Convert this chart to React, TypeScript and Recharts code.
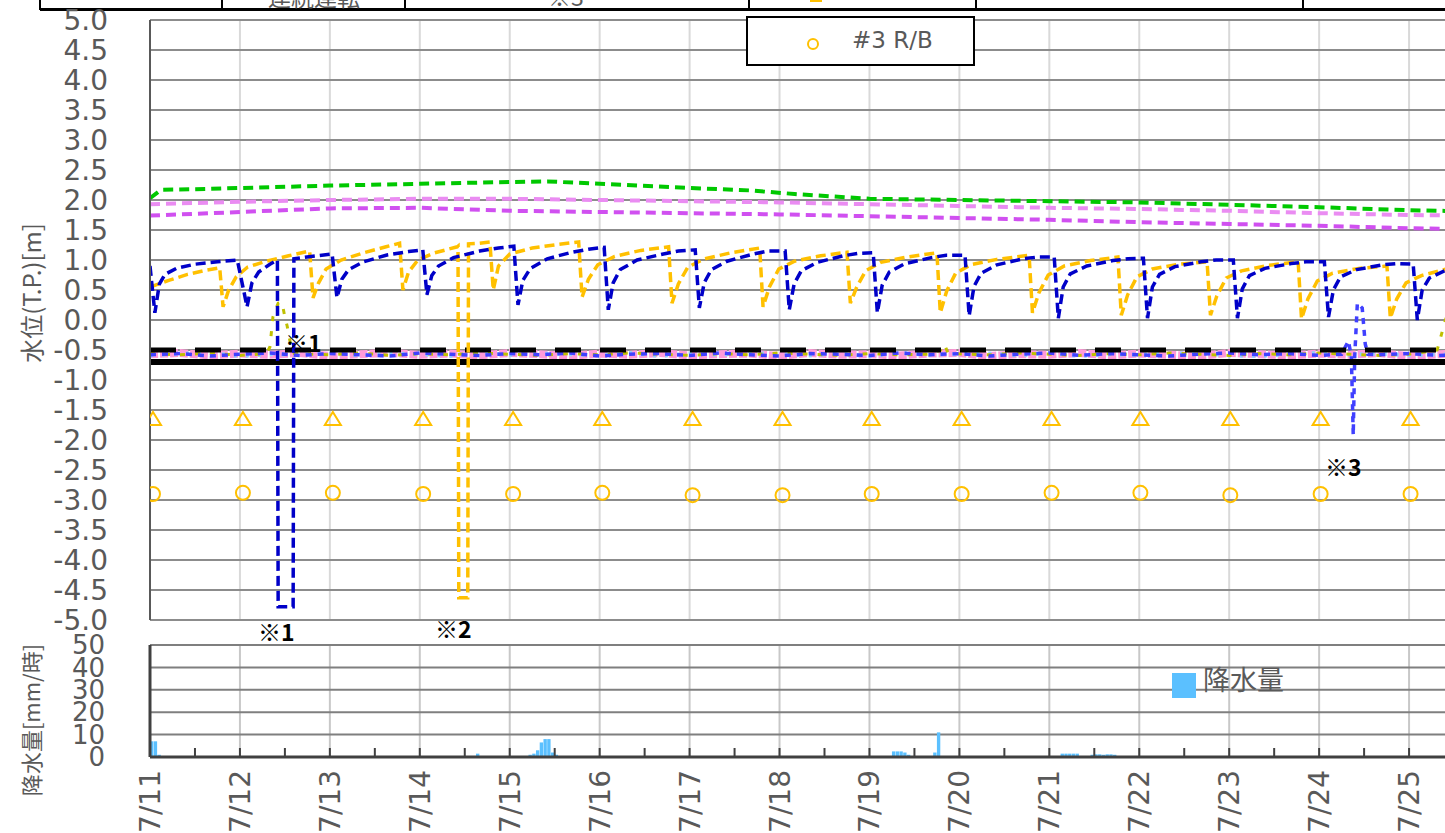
import React from "react";
import { Bar, CartesianGrid, ComposedChart, Line, Scatter, XAxis, YAxis } from "recharts";

// hours since 7/11 0:00
const dayTicks = [0, 24, 48, 72, 96, 120, 144, 168, 192, 216, 240, 264, 288, 312, 336, 360];
const dayLabels = ["7/11", "7/12", "7/13", "7/14", "7/15", "7/16", "7/17", "7/18", "7/19", "7/20", "7/21", "7/22", "7/23", "7/24", "7/25", "7/26"];
const halfDayTicks = [0, 12, 24, 36, 48, 60, 72, 84, 96, 108, 120, 132, 144, 156, 168, 180, 192, 204, 216, 228, 240, 252, 264, 276, 288, 300, 312, 324, 336, 348, 360];
const levelTicks = [-5, -4.5, -4, -3.5, -3, -2.5, -2, -1.5, -1, -0.5, 0, 0.5, 1, 1.5, 2, 2.5, 3, 3.5, 4, 4.5, 5];
const rainTicks = [0, 10, 20, 30, 40, 50];

// [hour, level]
const greenLevel = [[0, 2.03], [3, 2.17], [12, 2.18], [24, 2.2], [48, 2.24], [72, 2.27], [96, 2.3], [106, 2.31], [120, 2.27], [144, 2.2], [160, 2.16], [172, 2.1], [192, 2.02], [216, 2.0], [240, 1.98], [264, 1.96], [288, 1.92], [312, 1.88], [336, 1.83], [352, 1.81]];
const lilacLevel = [[0, 1.93], [24, 1.97], [48, 2.0], [72, 2.02], [96, 2.02], [120, 2.0], [144, 1.98], [168, 1.96], [192, 1.93], [216, 1.9], [240, 1.87], [264, 1.85], [288, 1.82], [312, 1.78], [336, 1.75], [352, 1.74]];
const purpleLevel = [[0, 1.74], [24, 1.8], [48, 1.86], [72, 1.87], [96, 1.82], [120, 1.8], [144, 1.78], [168, 1.76], [192, 1.73], [216, 1.7], [240, 1.67], [264, 1.63], [288, 1.6], [312, 1.57], [336, 1.53], [352, 1.51]];

const blueLevel = [
  [0, 0.9], [1.3, 0.12], [2.5, 0.6], [4, 0.76], [7, 0.86], [12, 0.93], [18, 0.97], [23.3, 1.0], [25.9, 0.22], [27.2, 0.62], [29, 0.8], [32, 0.93],
  [34, 1.0], [34.2, -4.78], [38.2, -4.78], [38.4, 1.02], [43, 1.06], [48.6, 1.1], [49.9, 0.37], [51.2, 0.68], [53, 0.84], [57, 0.97], [63, 1.08], [69, 1.14],
  [72.8, 1.17], [73.9, 0.42], [75.2, 0.74], [77, 0.9], [81, 1.04], [88, 1.15], [93, 1.2], [97.1, 1.23], [98.2, 0.25], [99.5, 0.66], [101.5, 0.86], [106, 1.02],
  [112, 1.12], [117, 1.18], [121.2, 1.21], [122.3, 0.17], [123.6, 0.62], [125.5, 0.84], [130, 1.0], [137, 1.1], [141, 1.15], [145.5, 1.17], [146.6, 0.2],
  [147.9, 0.62], [149.8, 0.84], [154, 0.98], [161, 1.1], [165, 1.15], [169.5, 1.15], [170.6, 0.17], [171.9, 0.6], [173.8, 0.82], [178, 0.96], [185, 1.07],
  [189, 1.11], [193, 1.12], [194.1, 0.12], [195.4, 0.58], [197.3, 0.8], [201.5, 0.94], [208.5, 1.04], [212.5, 1.08], [217.5, 1.08], [218.6, 0.07],
  [219.9, 0.56], [221.8, 0.78], [226, 0.92], [233, 1.02], [237, 1.05], [241.3, 1.05], [242.4, 0.03], [243.7, 0.55], [245.6, 0.77], [250, 0.9], [257, 0.99],
  [261, 1.02], [265.1, 1.03], [266.2, 0.03], [267.5, 0.55], [269.4, 0.76], [273.5, 0.89], [280.5, 0.97], [284.5, 1.0], [289.1, 1.0], [290.2, 0.03],
  [291.5, 0.52], [293.4, 0.74], [297.5, 0.86], [304.5, 0.94], [308.5, 0.97], [313.4, 0.97], [314.5, 0.05], [315.8, 0.5], [317.7, 0.72], [322, 0.84],
  [329, 0.92], [333, 0.94], [337.1, 0.93], [338.2, 0.0], [339.5, 0.5], [341.4, 0.7], [345.5, 0.82], [352, 0.9]
];

const orangeLevel = [
  [0, 0.55], [5, 0.66], [10, 0.76], [15, 0.83], [18.6, 0.87], [19.5, 0.22], [21, 0.5], [23, 0.72], [26, 0.88], [31, 0.98], [37, 1.07], [42.6, 1.15], [43.5, 0.37],
  [45, 0.62], [47, 0.85], [51, 1.0], [57, 1.12], [63, 1.22], [66.6, 1.28], [67.5, 0.5], [69, 0.8], [71.5, 1.0], [76, 1.12], [82, 1.22], [82.2, 1.23], [82.4, -4.63],
  [84.8, -4.63], [85, 1.27], [88, 1.28], [90.7, 1.3], [91.6, 0.5], [93, 0.9], [96, 1.1], [102, 1.2], [109, 1.26], [114.4, 1.3], [115.3, 0.38], [117, 0.68],
  [119.5, 0.92], [124, 1.06], [131, 1.16], [138.4, 1.22], [139.3, 0.28], [141, 0.6], [143.5, 0.88], [148, 1.02], [155, 1.12], [162.7, 1.2], [163.6, 0.22],
  [165.3, 0.55], [167.8, 0.85], [172, 0.98], [179, 1.07], [186, 1.13], [186.9, 0.28], [188.6, 0.55], [191, 0.82], [195, 0.96], [202, 1.05], [210, 1.12],
  [210.9, 0.12], [212.6, 0.48], [215, 0.78], [219, 0.92], [226, 1.01], [234.6, 1.08], [235.5, 0.12], [237.2, 0.45], [239.7, 0.75], [244, 0.9], [251, 0.99],
  [258.3, 1.05], [259.2, 0.08], [260.9, 0.42], [263.4, 0.72], [267.5, 0.85], [274.5, 0.93], [282.1, 0.97], [283, 0.08], [284.7, 0.4], [287.2, 0.7],
  [291.3, 0.82], [298.3, 0.91], [306.4, 0.97], [307.3, 0.02], [309, 0.35], [311.5, 0.65], [315.6, 0.78], [322.6, 0.86], [330.1, 0.9], [331, 0.03],
  [332.7, 0.35], [335.2, 0.62], [339.3, 0.74], [346, 0.85], [352, 0.9]
];

// noisy band just under the -0.5 line
const bandHours = [0, 8, 16, 24, 32, 40, 48, 56, 64, 72, 80, 88, 96, 104, 112, 120, 128, 136, 144, 152, 160, 168, 176, 184, 192, 200, 208, 216, 224, 232, 240, 248, 256, 264, 272, 280, 288, 296, 304, 312, 320, 328, 336, 344, 352];
const pinkBand = [-0.57, -0.55, -0.59, -0.56, -0.58, -0.55, -0.6, -0.57, -0.55, -0.58, -0.56, -0.59, -0.55, -0.57, -0.6, -0.56, -0.58, -0.55, -0.59, -0.57, -0.56, -0.6, -0.55, -0.58, -0.57, -0.59, -0.56, -0.55, -0.6, -0.57, -0.58, -0.55, -0.59, -0.56, -0.58, -0.6, -0.55, -0.57, -0.59, -0.56, -0.58, -0.55, -0.6, -0.57, -0.56];
const skyBand = [-0.59, -0.56, -0.55, -0.6, -0.57, -0.58, -0.55, -0.59, -0.56, -0.57, -0.6, -0.55, -0.58, -0.56, -0.57, -0.59, -0.55, -0.6, -0.56, -0.58, -0.55, -0.57, -0.59, -0.56, -0.6, -0.55, -0.58, -0.57, -0.56, -0.59, -0.55, -0.6, -0.57, -0.58, -0.56, -0.55, -0.59, -0.6, -0.57, -0.55, -0.58, -0.56, -0.59, -0.57, -0.6];
const oliveLevel = [
  [0, -0.56], [8, -0.58], [16, -0.55], [24, -0.59], [31, -0.56], [32, -0.45], [32.8, 0.05], [34.2, 0.28], [35.2, 0.3], [36, 0.05], [36.6, -0.1], [37.5, -0.4],
  [38.5, -0.56], [48, -0.58], [56, -0.55], [64, -0.59], [72, -0.56], [80, -0.58], [88, -0.55], [96, -0.57], [104, -0.59], [112, -0.56], [120, -0.58],
  [128, -0.55], [136, -0.57], [144, -0.59], [152, -0.56], [160, -0.58], [168, -0.55], [176, -0.57], [184, -0.59], [192, -0.56], [200, -0.58], [208, -0.57],
  [211, -0.5], [212, -0.4], [213, -0.56], [224, -0.58], [232, -0.55], [240, -0.57], [248, -0.59], [256, -0.56], [264, -0.58], [272, -0.55], [280, -0.57],
  [288, -0.59], [296, -0.56], [304, -0.58], [312, -0.55], [320, -0.57], [328, -0.59], [336, -0.57], [343.5, -0.5], [345.7, 0.0], [348, 0.35]
];
const note3Level = [
  [0, -0.58], [8, -0.56], [16, -0.6], [24, -0.57], [32, -0.55], [40, -0.59], [48, -0.56], [56, -0.58], [64, -0.6], [72, -0.55], [80, -0.57], [88, -0.59],
  [96, -0.56], [104, -0.58], [112, -0.55], [120, -0.6], [128, -0.57], [136, -0.56], [144, -0.59], [152, -0.55], [160, -0.58], [168, -0.6], [176, -0.56],
  [184, -0.57], [192, -0.59], [200, -0.55], [208, -0.58], [216, -0.56], [224, -0.6], [232, -0.57], [240, -0.55], [248, -0.59], [256, -0.56], [264, -0.58],
  [272, -0.6], [280, -0.57], [288, -0.55], [296, -0.58], [304, -0.56], [312, -0.59], [318, -0.57], [319.8, -0.35], [320.6, -0.6], [321.1, -1.92],
  [321.5, -0.6], [322.2, 0.28], [323.5, 0.2], [324.3, -0.4], [325, -0.57], [328, -0.58], [336, -0.56], [344, -0.59], [352, -0.57]
];
const dashedLimit = [[0, -0.5], [360, -0.5]];
const solidLimit = [[0, -0.7], [360, -0.7]];

// #3 T/B (triangle) and #3 R/B (circle), one reading a day
const markHours = [0.8, 24.8, 48.8, 72.9, 96.9, 120.7, 144.8, 168.8, 192.6, 216.6, 240.6, 264.3, 288.3, 312.4, 336.4];
const triangleLevels = [-1.65, -1.65, -1.65, -1.65, -1.65, -1.65, -1.65, -1.65, -1.65, -1.65, -1.65, -1.65, -1.65, -1.65, -1.65];
const circleLevels = [-2.9, -2.88, -2.88, -2.9, -2.9, -2.88, -2.92, -2.92, -2.9, -2.9, -2.88, -2.88, -2.92, -2.9, -2.9];

// rainfall [hour, mm/h]
const rainfall = [
  [0.5, 7], [1.5, 7], [2.5, 1], [87.5, 1.5], [101.5, 1], [102.5, 1.5], [103.5, 3], [104.5, 6.5], [105.5, 8], [106.5, 8], [107.5, 2], [108.5, 1],
  [198.5, 2.5], [199.5, 2.5], [200.5, 2.5], [201.5, 2], [202.5, 1], [209.5, 2], [210.5, 11],
  [243.5, 1.5], [244.5, 1.5], [245.5, 1.5], [246.5, 1.5], [247.5, 1.5],
  [251.5, 1], [252.5, 1.2], [253.5, 1.2], [254.5, 1], [255.5, 1.2], [256.5, 1.2], [257.5, 1]
];

const toPoints = (pairs: number[][]) => pairs.map(([h, v]) => ({ h, v }));
const bandPoints = (vals: number[]) => bandHours.map((h, i) => ({ h, v: vals[i] }));

const GRAY = "#595959";
const NUM_FONT = "'DejaVu Sans', Verdana, sans-serif";
const JP_FONT = "'Noto Sans CJK JP', 'Noto Sans', sans-serif";

const TriangleMark = (props: any) => {
  const { cx, cy } = props;
  if (cx == null || cy == null) return null;
  return <path d={`M${cx},${cy - 7} L${cx + 8},${cy + 6} L${cx - 8},${cy + 6} Z`} fill="none" stroke="#ffc000" strokeWidth={2} />;
};

const CircleMark = (props: any) => {
  const { cx, cy } = props;
  if (cx == null || cy == null) return null;
  return <circle cx={cx} cy={cy} r={7} fill="none" stroke="#ffc000" strokeWidth={2} />;
};

const RainTick = (props: any) => {
  const { x, y, payload } = props;
  const idx = dayTicks.indexOf(payload.value);
  return (
    <g>
      <line x1={x} x2={x} y1={y - 9} y2={y} stroke="#404040" strokeWidth={2} />
      {idx >= 0 && (
        <text
          transform={`translate(${x + 10},${y + 13}) rotate(-90)`}
          textAnchor="end"
          fontSize={28}
          fill={GRAY}
          fontFamily={NUM_FONT}
        >
          {dayLabels[idx]}
        </text>
      )}
    </g>
  );
};

const lineProps = { type: "linear" as const, dot: false, isAnimationActive: false, activeDot: false };

const note = (text: string, left: number, top: number) => (
  <div style={{ position: "absolute", left, top, fontSize: 23, fontWeight: 700, lineHeight: "28px", color: "#000", fontFamily: JP_FONT, whiteSpace: "nowrap" }}>
    {text}
  </div>
);

export default function App() {
  return (
    <div style={{ position: "fixed", left: 0, top: 0, width: 1445, height: 833, overflow: "hidden", background: "#fff", fontFamily: JP_FONT }}>
      {/* header table remnants */}
      <div style={{ position: "absolute", left: 40, top: 8, width: 1405, height: 3, background: "#000" }} />
      {[40, 222, 405, 749, 976, 1303].map((x) => (
        <div key={x} style={{ position: "absolute", left: x - 1, top: 0, width: 2, height: 10, background: "#000" }} />
      ))}
      <div style={{ position: "absolute", left: 223, width: 182, top: -16, fontSize: 23, lineHeight: "24px", color: GRAY, textAlign: "center" }}>連続運転</div>
      <div style={{ position: "absolute", left: 405, width: 322, top: -16, fontSize: 23, lineHeight: "24px", color: GRAY, textAlign: "center" }}>※3</div>
      <div style={{ position: "absolute", left: 810, top: -8, width: 12, height: 10, background: "#ffc000" }} />

      <div style={{ position: "absolute", left: 0, top: 0 }}>
        <ComposedChart width={1499} height={640} margin={{ top: 20, right: 0, bottom: 20, left: 0 }}>
          <CartesianGrid horizontal={false} stroke="#d9d9d9" strokeWidth={2} />
          <CartesianGrid vertical={false} stroke="#8c8c8c" strokeWidth={2} />
          <XAxis dataKey="h" type="number" domain={[0, 360]} ticks={dayTicks} allowDataOverflow hide />
          <YAxis
            type="number"
            domain={[-5, 5]}
            ticks={levelTicks}
            width={150}
            interval={0}
            tickFormatter={(v: number) => v.toFixed(1)}
            tickLine={false}
            tickSize={0}
            tickMargin={42}
            axisLine={{ stroke: GRAY, strokeWidth: 2 }}
            tick={{ fontSize: 28, fill: GRAY, fontFamily: NUM_FONT }}
          />
          <Line {...lineProps} data={bandPoints(pinkBand)} dataKey="v" stroke="#ff9ad8" strokeWidth={8} strokeDasharray="8 2" />
          <Line {...lineProps} data={bandPoints(skyBand)} dataKey="v" stroke="#8fd0ff" strokeWidth={4} strokeDasharray="3 9" />
          <Line {...lineProps} data={toPoints(oliveLevel)} dataKey="v" stroke="#c0c000" strokeWidth={3} strokeDasharray="5 10" />
          <Line {...lineProps} data={toPoints(note3Level)} dataKey="v" stroke="#4040ff" strokeWidth={3.5} strokeDasharray="6 6" />
          <Line {...lineProps} data={toPoints(dashedLimit)} dataKey="v" stroke="#000" strokeWidth={5} strokeDasharray="26 19" />
          <Line {...lineProps} data={toPoints(solidLimit)} dataKey="v" stroke="#000" strokeWidth={6} />
          <Line {...lineProps} data={toPoints(greenLevel)} dataKey="v" stroke="#00c800" strokeWidth={4} strokeDasharray="10 6" />
          <Line {...lineProps} data={toPoints(lilacLevel)} dataKey="v" stroke="#ea8cf2" strokeWidth={4} strokeDasharray="10 6" />
          <Line {...lineProps} data={toPoints(purpleLevel)} dataKey="v" stroke="#d050f0" strokeWidth={4} strokeDasharray="10 6" />
          <Line {...lineProps} data={toPoints(orangeLevel)} dataKey="v" stroke="#ffc000" strokeWidth={3.5} strokeDasharray="10 5" />
          <Line {...lineProps} data={toPoints(blueLevel)} dataKey="v" stroke="#0000c8" strokeWidth={3.5} strokeDasharray="10 5" />
          <Scatter data={markHours.map((h, i) => ({ h, v: triangleLevels[i] }))} dataKey="v" shape={TriangleMark} isAnimationActive={false} />
          <Scatter data={markHours.map((h, i) => ({ h, v: circleLevels[i] }))} dataKey="v" shape={CircleMark} isAnimationActive={false} />
        </ComposedChart>
      </div>

      <div style={{ position: "absolute", left: 0, top: 625 }}>
        <ComposedChart data={toPoints(rainfall)} width={1499} height={208} margin={{ top: 20, right: 0, bottom: 0, left: 0 }}>
          <CartesianGrid horizontal={false} verticalValues={dayTicks} stroke="#c8c8c8" strokeWidth={2} />
          <CartesianGrid vertical={false} stroke="#7f7f7f" strokeWidth={2} />
          <XAxis
            dataKey="h"
            type="number"
            domain={[0, 360]}
            ticks={halfDayTicks}
            interval={0}
            allowDataOverflow
            height={76}
            tickLine={false}
            tickSize={0}
            tickMargin={0}
            axisLine={{ stroke: "#404040", strokeWidth: 3 }}
            tick={<RainTick />}
          />
          <YAxis
            type="number"
            domain={[0, 50]}
            ticks={rainTicks}
            width={150}
            interval={0}
            allowDataOverflow
            tickLine={false}
            tickSize={0}
            tickMargin={45}
            axisLine={{ stroke: "#404040", strokeWidth: 3 }}
            tick={{ fontSize: 26, fill: GRAY, fontFamily: NUM_FONT }}
          />
          <Bar dataKey="v" fill="#5bc0ff" barSize={4} isAnimationActive={false} />
        </ComposedChart>
      </div>

      {/* legend box for #3 R/B */}
      <div style={{ position: "absolute", left: 746, top: 16, width: 225, height: 46, border: "2px solid #000", background: "#fff" }}>
        <div style={{ position: "absolute", left: 59, top: 20, width: 8, height: 8, border: "2px solid #ffc000", borderRadius: "50%" }} />
        <div style={{ position: "absolute", left: 104, top: 9, fontSize: 23, lineHeight: "26px", color: GRAY, whiteSpace: "nowrap", fontFamily: NUM_FONT }}>#3 R/B</div>
      </div>

      {/* rainfall legend */}
      <div style={{ position: "absolute", left: 1172, top: 673, width: 24, height: 25, background: "#5bc0ff" }} />
      <div style={{ position: "absolute", left: 1203, top: 664, fontSize: 27, lineHeight: "30px", color: GRAY, whiteSpace: "nowrap" }}>降水量</div>

      {/* axis titles */}
      <div style={{ position: "absolute", left: 30, top: 293, transform: "translate(-50%, -50%) rotate(-90deg)", fontSize: 24, color: GRAY, whiteSpace: "nowrap" }}>
        水位(T.P.)[m]
      </div>
      <div style={{ position: "absolute", left: 30, top: 720, transform: "translate(-50%, -50%) rotate(-90deg)", fontSize: 22, color: GRAY, whiteSpace: "nowrap" }}>
        降水量[mm/時]
      </div>

      {note("※1", 285, 328)}
      {note("※1", 258, 617)}
      {note("※2", 435, 614)}
      {note("※3", 1325, 452)}
    </div>
  );
}
